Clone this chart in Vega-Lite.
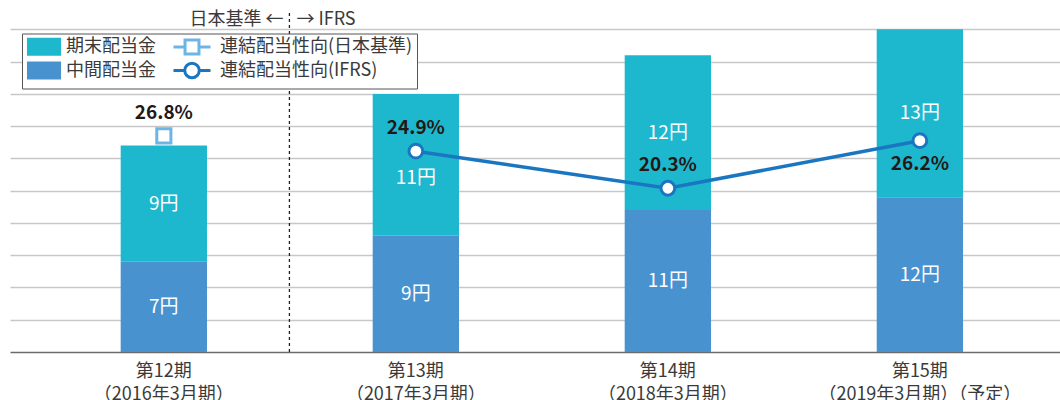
{
  "$schema": "https://vega.github.io/schema/vega-lite/v6.json",
  "width": 1050,
  "height": 342,
  "autosize": "none",
  "padding": {"left": 10, "top": 10, "right": 0, "bottom": 48},
  "background": "white",
  "config": {
    "font": "Noto Sans CJK JP",
    "view": {"stroke": null},
    "text": {"font": "Noto Sans CJK JP"},
    "axisY": {"labels": false, "ticks": false, "domain": false, "title": null, "grid": true, "gridColor": "#c8c8c8", "gridWidth": 1.3}
  },
  "datasets": {
    "dividends": [
      {"period": "第12期|（2016年3月期）", "type": "中間配当金", "yen": 7},
      {"period": "第12期|（2016年3月期）", "type": "期末配当金", "yen": 9},
      {"period": "第13期|（2017年3月期）", "type": "中間配当金", "yen": 9},
      {"period": "第13期|（2017年3月期）", "type": "期末配当金", "yen": 11},
      {"period": "第14期|（2018年3月期）", "type": "中間配当金", "yen": 11},
      {"period": "第14期|（2018年3月期）", "type": "期末配当金", "yen": 12},
      {"period": "第15期|（2019年3月期）（予定）", "type": "中間配当金", "yen": 12},
      {"period": "第15期|（2019年3月期）（予定）", "type": "期末配当金", "yen": 13}
    ],
    "ratio": [
      {"period": "第12期|（2016年3月期）", "series": "連結配当性向(日本基準)", "ratio": 26.8},
      {"period": "第13期|（2017年3月期）", "series": "連結配当性向(IFRS)", "ratio": 24.9},
      {"period": "第14期|（2018年3月期）", "series": "連結配当性向(IFRS)", "ratio": 20.3},
      {"period": "第15期|（2019年3月期）（予定）", "series": "連結配当性向(IFRS)", "ratio": 26.2}
    ],
    "note": [
      {"period": "第12期|（2016年3月期）", "side": "left", "text": "日本基準 ←"},
      {"period": "第12期|（2016年3月期）", "side": "right", "text": "→ IFRS"}
    ]
  },
  "layer": [
    {
      "layer": [
        {
          "data": {"name": "dividends"},
          "transform": [
            {"calculate": "datum.type === '中間配当金' ? 0 : 1", "as": "ord"},
            {"stack": "yen", "groupby": ["period"], "sort": [{"field": "ord"}], "as": ["y0", "y1"]},
            {"calculate": "(datum.y0 + datum.y1) / 2", "as": "ymid"},
            {"calculate": "datum.yen + '円'", "as": "label"}
          ],
          "layer": [
            {
              "mark": {"type": "bar"},
              "encoding": {
                "x": {
                  "field": "period", "type": "nominal",
                  "scale": {
                    "domain": ["第12期|（2016年3月期）", "第13期|（2017年3月期）", "第14期|（2018年3月期）", "第15期|（2019年3月期）（予定）"],
                    "paddingInner": 0.6575, "paddingOuter": 0.412, "align": 0.533
                  },
                  "axis": {
                    "title": null, "labelAngle": 0, "labelExpr": "split(datum.label, '|')",
                    "ticks": false, "domainColor": "#6b6b6b", "domainWidth": 1.5,
                    "labelFont": "Noto Sans CJK JP", "labelFontSize": 18, "labelColor": "#3a3a3a",
                    "labelPadding": 10, "labelLineHeight": 23, "labelLimit": 400, "grid": false
                  }
                },
                "y": {
                  "field": "y1", "type": "quantitative",
                  "scale": {"domain": [0, 26.5], "nice": false},
                  "axis": {"values": [2.5, 5, 7.5, 10, 12.5, 15, 17.5, 20, 22.5, 25]}
                },
                "y2": {"field": "y0"},
                "color": {
                  "field": "type", "type": "nominal",
                  "scale": {
                    "domain": ["期末配当金", "連結配当性向(日本基準)", "中間配当金", "連結配当性向(IFRS)"],
                    "range": ["#1eb8ce", "#6cb6e6", "#4893cf", "#1b76c2"]
                  },
                  "legend": {
                    "title": null, "orient": "none", "legendX": 12, "legendY": 23.5,
                    "columns": 2, "direction": "horizontal",
                    "symbolSize": 225, "symbolStrokeWidth": 3, "symbolOffset": 9,
                    "labelFont": "Noto Sans CJK JP", "labelFontSize": 18, "labelColor": "#3a3a3a", "labelLimit": 400,
                    "labelOffset": 19,
                    "strokeColor": "#555555", "fillColor": "white", "padding": 4,
                    "rowPadding": -4, "columnPadding": 11, "cornerRadius": 0,
                    "encode": {
                      "symbols": {
                        "update": {
                          "shape": {"signal": "datum.value === '連結配当性向(IFRS)' ? 'M-2.47,0H-0.97M0.97,0H2.47M-0.97,0A0.97,0.97 0 1,0 0.97,0A0.97,0.97 0 1,0 -0.97,0Z' : datum.value === '連結配当性向(日本基準)' ? 'M-2.47,0H-0.93M0.93,0H2.47M-0.93,-0.93H0.93V0.93H-0.93Z' : 'M-2.07,-1H2.07V1H-2.07Z'"},
                          "fillOpacity": {"signal": "datum.value === '期末配当金' || datum.value === '中間配当金' ? 1 : 0"},
                          "stroke": {"signal": "datum.value === '連結配当性向(IFRS)' ? '#1b76c2' : datum.value === '連結配当性向(日本基準)' ? '#6cb6e6' : 'transparent'"},
                          "opacity": {"value": 1}
                        }
                      },
                      "labels": {
                        "update": {
                          "dx": {"signal": "datum.value === '期末配当金' || datum.value === '中間配当金' ? -6 : 0"}
                        }
                      }
                    }
                  }
                }
              }
            },
            {
              "transform": [{"filter": "!(datum.period === '第13期|（2017年3月期）' && datum.type === '期末配当金')"}],
              "mark": {"type": "text", "color": "white", "fontSize": 19, "baseline": "middle"},
              "encoding": {
                "x": {"field": "period", "type": "nominal"},
                "y": {"field": "ymid", "type": "quantitative", "axis": {"values": [2.5, 5, 7.5, 10, 12.5, 15, 17.5, 20, 22.5, 25]}},
                "text": {"field": "label"}
              }
            },
            {
              "transform": [{"filter": "datum.period === '第13期|（2017年3月期）' && datum.type === '期末配当金'"}],
              "mark": {"type": "text", "color": "white", "fontSize": 19, "baseline": "middle", "dy": 13},
              "encoding": {
                "x": {"field": "period", "type": "nominal"},
                "y": {"field": "ymid", "type": "quantitative", "axis": {"values": [2.5, 5, 7.5, 10, 12.5, 15, 17.5, 20, 22.5, 25]}},
                "text": {"field": "label"}
              }
            }
          ]
        },
        {
          "data": {"name": "note"},
          "layer": [
            {
              "transform": [{"filter": "datum.side === 'left'"}],
              "mark": {"type": "rule", "color": "#222222", "strokeWidth": 1.3, "strokeDash": [3, 3]},
              "encoding": {
                "x": {"field": "period", "type": "nominal", "bandPosition": 1.955},
                "y": {"datum": 0, "type": "quantitative", "axis": {"values": [2.5, 5, 7.5, 10, 12.5, 15, 17.5, 20, 22.5, 25]}},
                "y2": {"datum": 26.5}
              }
            },
            {
              "transform": [{"filter": "datum.side === 'left'"}],
              "mark": {"type": "text", "align": "right", "baseline": "middle", "dx": -6, "fontSize": 18, "color": "#3a3a3a"},
              "encoding": {
                "x": {"field": "period", "type": "nominal", "bandPosition": 1.955},
                "y": {"datum": 25.75, "type": "quantitative", "axis": {"values": [2.5, 5, 7.5, 10, 12.5, 15, 17.5, 20, 22.5, 25]}},
                "text": {"field": "text"}
              }
            },
            {
              "transform": [{"filter": "datum.side === 'right'"}],
              "mark": {"type": "text", "align": "left", "baseline": "middle", "dx": 7, "fontSize": 18, "color": "#3a3a3a"},
              "encoding": {
                "x": {"field": "period", "type": "nominal", "bandPosition": 1.955},
                "y": {"datum": 25.75, "type": "quantitative", "axis": {"values": [2.5, 5, 7.5, 10, 12.5, 15, 17.5, 20, 22.5, 25]}},
                "text": {"field": "text"}
              }
            }
          ]
        }
      ]
    },
    {
      "data": {"name": "ratio"},
      "transform": [
        {"calculate": "format(datum.ratio, '.1f') + '%'", "as": "label"}
      ],
      "encoding": {
        "x": {"field": "period", "type": "nominal"},
        "y": {"field": "ratio", "type": "quantitative", "scale": {"domain": [0, 42.4], "nice": false}, "axis": null},
        "color": {"field": "series", "type": "nominal"}
      },
      "layer": [
        {
          "transform": [{"filter": "datum.series === '連結配当性向(IFRS)'"}],
          "mark": {"type": "line", "strokeWidth": 3.5}
        },
        {
          "transform": [{"filter": "datum.series === '連結配当性向(IFRS)'"}],
          "mark": {"type": "point", "shape": "circle", "filled": false, "fill": "white", "fillOpacity": 1, "opacity": 1, "strokeWidth": 3, "size": 190}
        },
        {
          "transform": [{"filter": "datum.series === '連結配当性向(日本基準)'"}],
          "mark": {"type": "point", "shape": "square", "filled": false, "fill": "white", "fillOpacity": 1, "opacity": 1, "strokeWidth": 3, "size": 200}
        },
        {
          "transform": [{"filter": "datum.period !== '第15期|（2019年3月期）（予定）'"}],
          "mark": {"type": "text", "fontSize": 19, "fontWeight": "bold", "color": "#231815", "baseline": "middle", "dy": -23},
          "encoding": {"text": {"field": "label"}, "color": {"value": "#231815"}}
        },
        {
          "transform": [{"filter": "datum.period === '第15期|（2019年3月期）（予定）'"}],
          "mark": {"type": "text", "fontSize": 19, "fontWeight": "bold", "color": "#231815", "baseline": "middle", "dy": 23},
          "encoding": {"text": {"field": "label"}, "color": {"value": "#231815"}}
        }
      ]
    }
  ],
  "resolve": {"scale": {"y": "independent"}}
}
